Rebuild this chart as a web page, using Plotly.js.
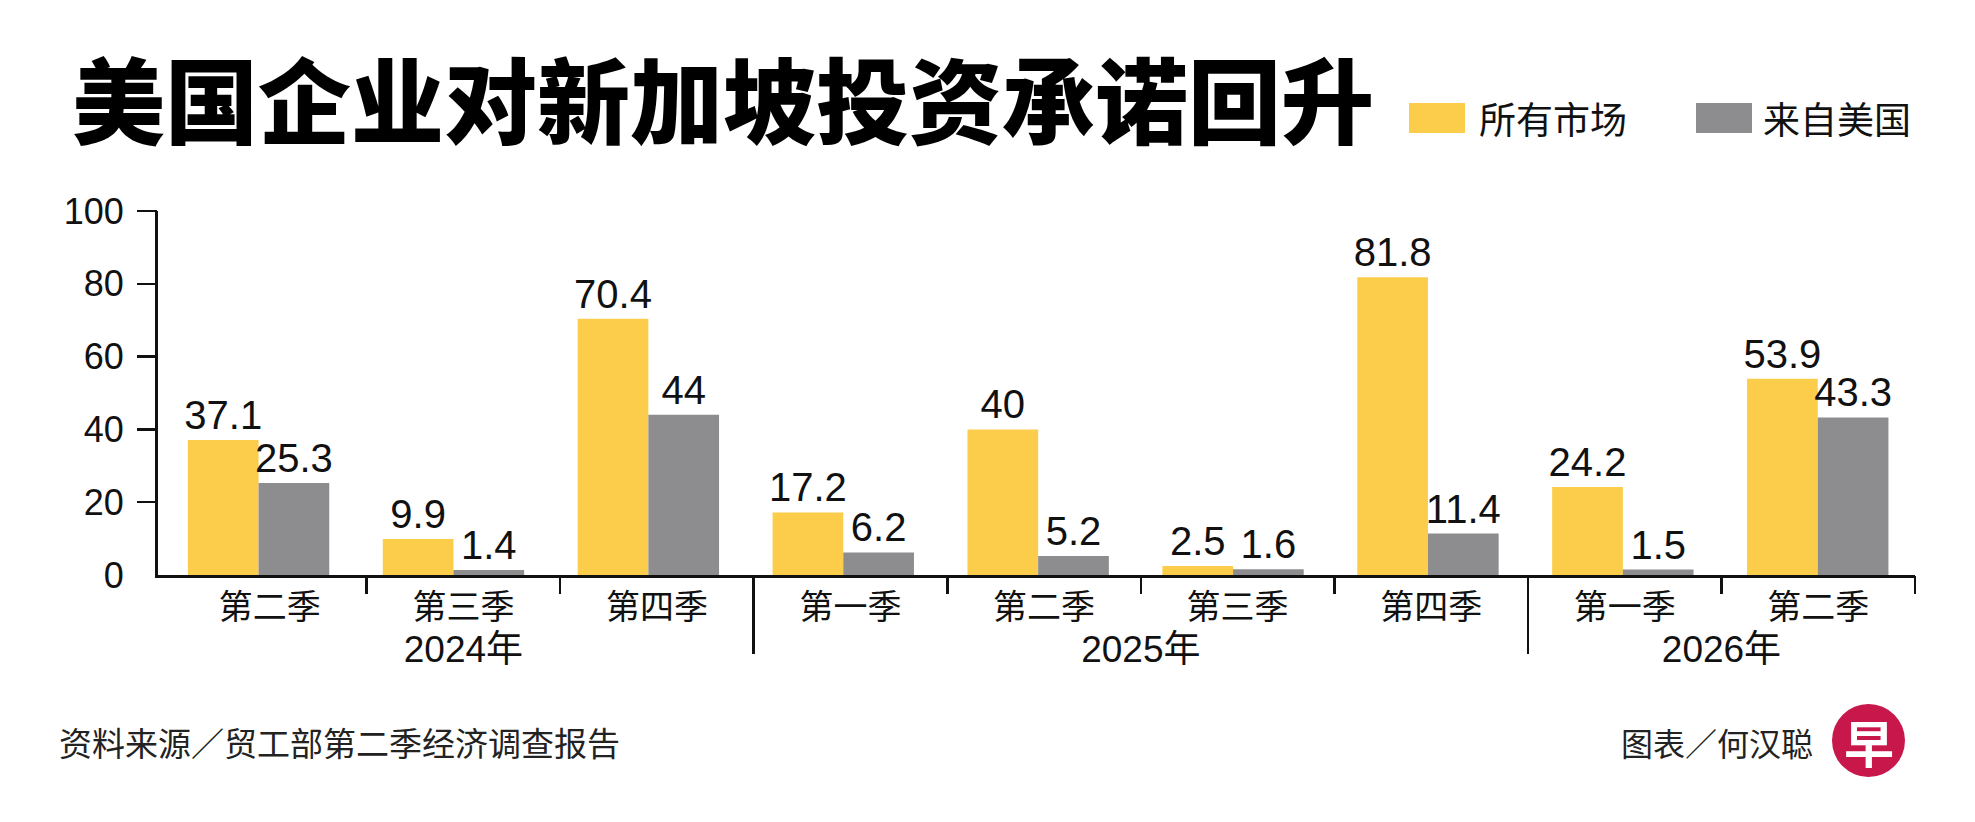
<!DOCTYPE html>
<html>
<head>
<meta charset="utf-8">
<script src="https://cdn.plot.ly/plotly-3.0.1.min.js"></script>
<style>
html,body{margin:0;padding:0;background:#fff;}
#chart{width:1975px;height:822px;}
</style>
</head>
<body>
<div id="chart"></div>
<script>
// ---- data ----
const years = ['2024年','2024年','2024年','2025年','2025年','2025年','2025年','2026年','2026年'];
const quarters = ['第二季','第三季','第四季','第一季','第二季','第三季','第四季','第一季','第二季'];
const allMarkets = [37.1, 9.9, 70.4, 17.2, 40, 2.5, 81.8, 24.2, 53.9];
const fromUS = [25.3, 1.4, 44, 6.2, 5.2, 1.6, 11.4, 1.5, 43.3];
const seriesNames = ['所有市场', '来自美国'];
const yTicks = [0, 20, 40, 60, 80, 100];
const titleText = '美国企业对新加坡投资承诺回升';
const sourceText = '资料来源／贸工部第二季经济调查报告';
const creditText = '图表／何汉聪';
const logoText = '早';

// ---- styles / layout geometry ----
const W = 1975, H = 822;
const L = 158, R = 1915, T = 211, B = 575;
const colors = ['#FCCD4B', '#8D8D90'];
const numFont = 'Liberation Sans, Arial, Noto Sans CJK SC, sans-serif';
const cjkFont = 'Noto Sans CJK SC, Liberation Sans, sans-serif';
const n = quarters.length;
const labelRange = [-0.578, n - 0.5];   // category label / tick scale
const barRange = [-0.516, n - 0.501];   // bar placement scale

// positions derived from the category arrays
const idx = quarters.map((q, i) => i);
const boundaries = idx.map(i => i + 0.5);
const yearBreaks = idx.filter(i => i > 0 && years[i] !== years[i - 1]).map(i => i - 0.5);
const yearNames = years.filter((y, i) => i === 0 || y !== years[i - 1]);
const yearCenters = yearNames.map(y => {
  const members = idx.filter(i => years[i] === y);
  return (members[0] + members[members.length - 1]) / 2;
});

// paper coordinate helpers (decoration positions only)
const px = X => (X - L) / (R - L);
const py = Y => (B - Y) / (B - T);

const barWidth = 0.3627;
const seriesValues = [allMarkets, fromUS];
const offsets = [-barWidth, 0];
const traces = seriesValues.map((vals, s) => ({
  type: 'bar', name: seriesNames[s],
  x: idx, y: vals, xaxis: 'x', yaxis: 'y',
  marker: {color: colors[s], line: {width: 0}},
  width: barWidth, offset: offsets[s],
  text: vals.map(String), textposition: 'outside', constraintext: 'none',
  textfont: {family: numFont, size: 40, color: '#111'},
  cliponaxis: false, hoverinfo: 'skip', showlegend: false
}));

// empty carrier traces so that the overlay axes (labels / ticks) are drawn
['x2', 'x3', 'x4', 'x5'].forEach(ax => traces.push({
  type: 'scatter', mode: 'none', x: idx, y: idx.map(() => null), xaxis: ax, yaxis: 'y',
  hoverinfo: 'skip', showlegend: false
}));
traces.push({type: 'scatter', mode: 'none', x: idx, y: idx.map(() => null), xaxis: 'x', yaxis: 'y2',
  hoverinfo: 'skip', showlegend: false});

const shapes = [];
const annotations = [];

// custom legend
const legendBoxes = [[1409, 1465], [1696, 1752]];
const legendTextX = [1477, 1761];
seriesNames.forEach((name, i) => {
  shapes.push({type: 'rect', xref: 'paper', yref: 'paper',
    x0: px(legendBoxes[i][0]), x1: px(legendBoxes[i][1]), y0: py(133), y1: py(103),
    fillcolor: colors[i], line: {width: 0}});
  annotations.push({xref: 'paper', yref: 'paper', x: px(legendTextX[i]), y: py(118),
    xanchor: 'left', yanchor: 'middle', showarrow: false, text: name,
    font: {family: cjkFont, size: 37, color: '#111'}});
});

// footer
annotations.push({xref: 'paper', yref: 'paper', x: px(57), y: py(742), xanchor: 'left', yanchor: 'middle',
  showarrow: false, text: sourceText, font: {family: cjkFont, size: 33, color: '#222'}});
annotations.push({xref: 'paper', yref: 'paper', x: px(1815), y: py(742), xanchor: 'right', yanchor: 'middle',
  showarrow: false, text: creditText, font: {family: cjkFont, size: 32, color: '#222'}});
// logo
shapes.push({type: 'circle', xref: 'paper', yref: 'paper',
  x0: px(1832), x1: px(1905), y0: py(777), y1: py(704), fillcolor: '#C8174B', line: {width: 0}});
annotations.push({xref: 'paper', yref: 'paper', x: px(1868.5), y: py(741), xanchor: 'center', yanchor: 'middle',
  showarrow: false, text: logoText, font: {family: cjkFont, size: 50, color: '#fff', weight: 'bold'}});

const hiddenAxis = {
  overlaying: 'x', anchor: 'y', side: 'bottom', type: 'linear', range: labelRange,
  showgrid: false, zeroline: false, showline: false, fixedrange: true
};

const layout = {
  width: W, height: H,
  margin: {l: L, r: W - R, t: T, b: H - B, pad: 0},
  paper_bgcolor: '#fff', plot_bgcolor: '#fff',
  showlegend: false,
  title: {text: titleText, xref: 'container', yref: 'container', x: 72 / W, xanchor: 'left',
    y: 1 - 104 / H, yanchor: 'middle',
    font: {family: 'Noto Sans CJK SC Black, Noto Sans CJK SC, sans-serif', size: 93, color: '#000', weight: 900}},
  xaxis: {
    type: 'linear', range: barRange, showline: true, linewidth: 3, linecolor: '#111',
    ticks: '', showticklabels: false, showgrid: false, zeroline: false, fixedrange: true
  },
  // quarter labels
  xaxis2: Object.assign({}, hiddenAxis, {
    tickmode: 'array', tickvals: idx, ticktext: quarters, ticks: '', ticklabelstandoff: 9,
    tickfont: {family: cjkFont, size: 34, color: '#111'}
  }),
  // short boundary ticks
  xaxis3: Object.assign({}, hiddenAxis, {
    tickmode: 'array', tickvals: boundaries, ticks: 'outside', ticklen: 18, tickwidth: 2.5, tickcolor: '#111',
    showticklabels: false
  }),
  // long year dividers
  xaxis4: Object.assign({}, hiddenAxis, {
    tickmode: 'array', tickvals: yearBreaks, ticks: 'outside', ticklen: 78, tickwidth: 2.5, tickcolor: '#111',
    showticklabels: false
  }),
  // year labels
  xaxis5: Object.assign({}, hiddenAxis, {
    tickmode: 'array', tickvals: yearCenters, ticktext: yearNames, ticks: 'outside', ticklen: 42,
    tickcolor: 'rgba(0,0,0,0)', tickfont: {family: numFont, size: 37, color: '#111'}
  }),
  yaxis: {
    range: [0, 100], tickmode: 'array', tickvals: yTicks, showline: true, linewidth: 3, linecolor: '#111',
    ticks: 'outside', ticklen: 20, tickwidth: 2.5, tickcolor: 'rgba(0,0,0,0)', ticklabelstandoff: 4,
    showgrid: false, zeroline: false, tickfont: {family: numFont, size: 36, color: '#111'}, fixedrange: true
  },
  yaxis2: {
    overlaying: 'y', anchor: 'x', side: 'left', range: [0, 100], tickmode: 'array', tickvals: yTicks.filter(v => v > 0),
    ticks: 'outside', ticklen: 20, tickwidth: 2.5, tickcolor: '#111', showticklabels: false,
    showgrid: false, zeroline: false, showline: false, fixedrange: true
  },
  shapes: shapes,
  annotations: annotations
};

Plotly.newPlot('chart', traces, layout, {staticPlot: true, displayModeBar: false});
</script>
</body>
</html>
